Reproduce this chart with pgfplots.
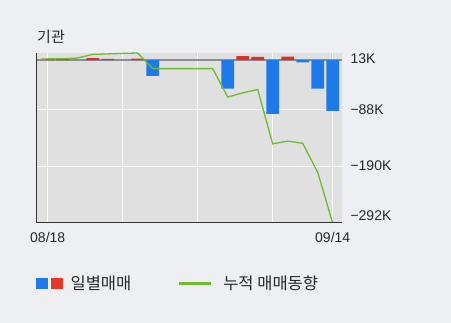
\documentclass[border=0pt]{standalone}
\usepackage{pgfplots}
\pgfplotsset{compat=1.18}
\usepackage{fontspec}
\setmainfont{Liberation Sans}
\newfontfamily\kr{Noto Sans CJK KR}
\definecolor{bgc}{RGB}{238,239,243}
\definecolor{plotbg}{RGB}{224,224,224}
\definecolor{cblue}{RGB}{30,122,232}
\definecolor{cred}{RGB}{212,52,40}
\definecolor{lred}{RGB}{232,56,40}
\definecolor{cgreen}{RGB}{110,188,50}
\definecolor{axisc}{RGB}{50,50,50}
\definecolor{zeroc}{RGB}{140,140,148}
\definecolor{txtc}{RGB}{40,40,40}
\begin{document}
\begin{tikzpicture}
\useasboundingbox[fill=bgc] (0,0) rectangle (451bp,323bp);
\begin{axis}[
  at={(36bp,100bp)}, anchor=south west,
  scale only axis, width=306bp, height=170bp,
  xmin=-0.78, xmax=19.62, ymin=-292, ymax=13,
  axis background/.style={fill=plotbg},
  axis line style={draw=none},
  xtick={0,5,10,15,19},
  xticklabels={08/18,,,,09/14},
  ytick={-88,-190},
  yticklabels={−88K,−190K},
  extra y ticks={3.5,-279},
  extra y tick labels={13K,−292K},
  extra y tick style={grid=none},
  yticklabel pos=right,
  major tick length=0pt,
  grid=major,
  major grid style={white, line width=1bp},
  ticklabel style={font=\fontsize{14bp}{16bp}\selectfont, text=txtc},
  yticklabel style={anchor=west, xshift=5bp},
  xticklabel style={yshift=-6bp},
  title={\kr 기관},
  title style={at={(axis description cs:0,1)}, anchor=base west, xshift=1bp, yshift=5bp, inner sep=0pt, font=\fontsize{15bp}{17bp}\selectfont, text=txtc},
  legend columns=2,
  legend style={at={(axis description cs:0,-0.353)}, anchor=west, draw=none, fill=none, inner sep=0pt,
    font=\kr\fontsize{16.5bp}{19bp}\selectfont, text=txtc,
    /tikz/every even column/.append style={column sep=44bp}},
  legend cell align=left,
]
\addplot[zeroc, line width=1.5bp, forget plot] coordinates {(-0.78,0) (19.62,0)};
\addplot[ybar, bar width=0.86, bar shift=0pt, fill=cred, draw=none, forget plot] coordinates {
(0,3) (1,2.5) (3,4) (4,2.5) (6,3) (13,7.5) (14,6) (16,6.4)};
\addplot[ybar, bar width=0.86, bar shift=0pt, fill=cblue, draw=none, forget plot] coordinates {
(7,-28) (12,-51) (15,-96) (17,-4) (18,-51) (19,-91)};
\addplot[cgreen, line width=1.3bp, forget plot] coordinates {
(-1,0) (0,2.4) (1,2.7) (2,4) (3,10.5) (4,11.3) (5,12.3) (6,13) (7,-15) (8,-15) (9,-15) (10,-15) (11,-15)
(12,-66) (13,-58.5) (14,-52.5) (15,-150) (16,-145) (17,-149) (18,-201) (19,-292)};
\draw[axisc, line width=2.2bp] (rel axis cs:0,1) -- (rel axis cs:0,0) -- (rel axis cs:1,0);
\addlegendimage{legend image code/.code={\fill[cblue] (0bp,-5bp) rectangle (11bp,5bp); \fill[lred] (15bp,-5bp) rectangle (26bp,5bp);}}
\addlegendentry{\hspace{6bp}일별매매}
\addlegendimage{legend image code/.code={\draw[cgreen, line width=3bp] (0bp,0bp) -- (32bp,0bp);}}
\addlegendentry{\hspace{9bp}누적 매매동향}
\end{axis}
\end{tikzpicture}
\end{document}
